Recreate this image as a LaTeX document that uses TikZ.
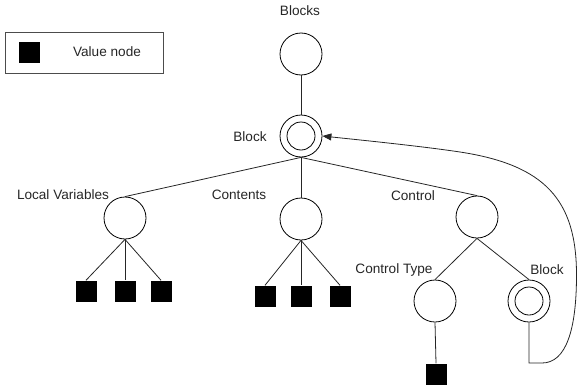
\documentclass[tikz,border=0pt]{standalone}
\usepackage{fontspec}
\setmainfont{Liberation Sans}
\usetikzlibrary{arrows.meta}
\begin{document}
\begin{tikzpicture}[x=1pt,y=-1pt,
  circ/.style={draw, circle, minimum size=42pt, inner sep=0pt, line width=0.8pt},
  incirc/.style={draw, circle, minimum size=28pt, inner sep=0pt, line width=0.8pt},
  vbox/.style={fill=black, minimum size=21pt, inner sep=0pt},
  lbl/.style={font=\fontsize{13.6pt}{15pt}\selectfont, text=black!85, inner sep=0pt},
  edge/.style={line width=0.8pt, draw=black!85}]
\useasboundingbox (0,0) rectangle (577,388);
% legend
\node[draw=black!70, line width=0.8pt, minimum width=158pt, minimum height=41pt, inner sep=0pt] (legend) at (84,52.5) {};
\node[vbox] (legsq) at (29,52.5) {};
\node[lbl] (legtxt) at (107,52) {Value node};
% tree
\node[lbl] (lblocks) at (300,11) {Blocks};
\node[circ] (blocks) at (301,54) {};
\node[circ] (block) at (301,136) {};
\node[incirc] (blockin) at (301,136) {};
\node[lbl] (lblock) at (250,137) {Block};
\node[circ] (lv) at (125,218) {};
\node[lbl] (llv) at (63,195) {Local Variables};
\node[circ] (ct) at (301,219) {};
\node[lbl] (lct) at (239,195) {Contents};
\node[circ] (co) at (477,217) {};
\node[lbl] (lco) at (413,196) {Control};
\node[circ] (cty) at (435,301) {};
\node[lbl] (lcty) at (394,270) {Control Type};
\node[circ] (bb) at (529,301) {};
\node[incirc] (bbin) at (529,301) {};
\node[lbl] (lbb) at (547,270) {Block};
\node[vbox] (lv1) at (86,291) {};
\node[vbox] (lv2) at (125,291) {};
\node[vbox] (lv3) at (161,291) {};
\node[vbox] (ct1) at (265,296) {};
\node[vbox] (ct2) at (301,296) {};
\node[vbox] (ct3) at (340,296) {};
\node[vbox] (cty1) at (436,374) {};
\coordinate (loop1) at (529,363);
\coordinate (loop2) at (542,363);
\coordinate (loop3) at (576.5,275);
\coordinate (loop4) at (460,152);
% connectors
\draw[edge] (blocks.south) -- (block.north);
\draw[edge] (block.south) -- (lv.north);
\draw[edge] (block.south) -- (ct.north);
\draw[edge] (block.south) -- (co.north);
\draw[edge] (lv.south) -- (lv1.north);
\draw[edge] (lv.south) -- (lv2.north);
\draw[edge] (lv.south) -- (lv3.north);
\draw[edge] (ct.south) -- (ct1.north);
\draw[edge] (ct.south) -- (ct2.north);
\draw[edge] (ct.south) -- (ct3.north);
\draw[edge] (co.south) -- (cty.north);
\draw[edge] (co.south) -- (bb.north);
\draw[edge] (cty.south) -- (cty1.north);
\draw[edge, -{Triangle[length=9pt,width=7pt]}] (bb.south) -- (loop1) -- (loop2)
  .. controls (566,363) and (576.5,330) .. (loop3)
  .. controls (576.5,200) and (545,165) .. (loop4)
  .. controls (420,146) and (360,140) .. (block.east);
\end{tikzpicture}
\end{document}
